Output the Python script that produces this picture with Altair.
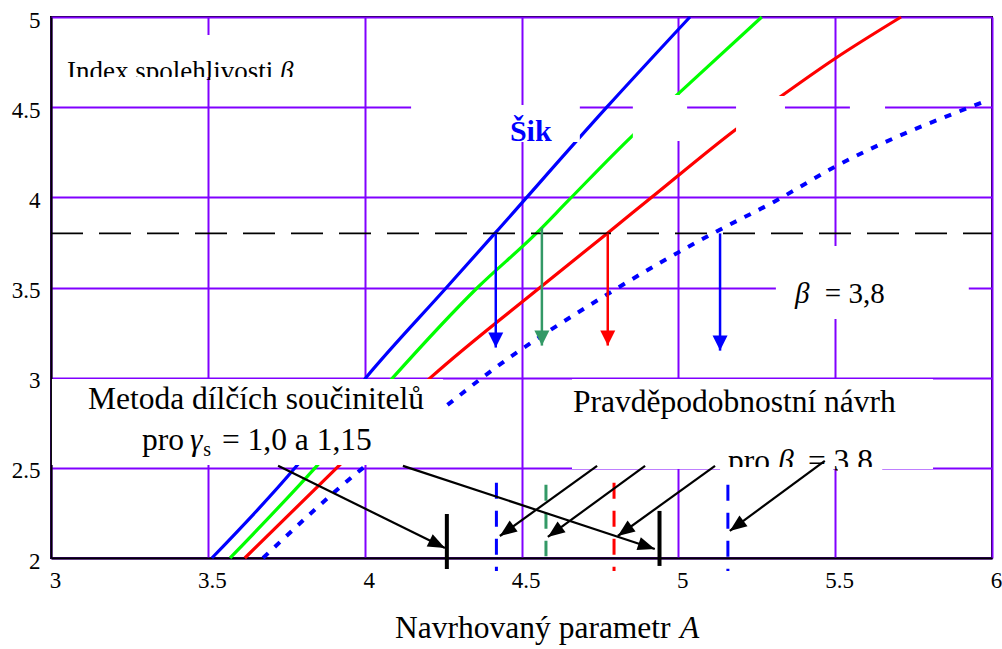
import math
import altair as alt
import pandas as pd

SERIF = "Liberation Serif"
GRID = "#8000ff"
W, H = 941, 541
X_DOMAIN = [3.0, 6.0]
Y_DOMAIN = [2.0, 5.0]
BETA_TARGET = 3.8

# Reliability index beta as a function of the design parameter A
BLUE_X = [3.513, 3.778, 4.004, 4.261, 4.415, 4.772, 5.037]
BLUE_Y = [2.0, 2.5, 3.0, 3.5, 3.8, 4.5, 5.0]
GREEN_X = [3.571, 3.842, 4.09, 4.36, 4.547, 4.648, 4.855, 4.995, 5.266]
GREEN_Y = [2.0, 2.5, 3.0, 3.5, 3.8, 3.98, 4.344, 4.567, 5.0]
RED_X = [3.618, 3.911, 4.21, 4.559, 4.773, 4.915, 5.18, 5.324, 5.5, 5.71]
RED_Y = [2.0, 2.5, 3.0, 3.5, 3.8, 4.0, 4.372, 4.556, 4.77, 5.0]
PROB_X = [3.676, 3.995, 4.25, 4.39, 4.79, 5.11, 5.31, 5.5, 5.99]
PROB_Y = [2.0, 2.5, 2.83, 3.02, 3.48, 3.80, 3.98, 4.17, 4.54]

DROP_X = [4.418, 4.565, 4.775, 5.133]
DROP_TOP = [3.8, 3.833, 3.8, 3.8]
DROP_TIP = [3.167, 3.178, 3.178, 3.150]
DROP_COLOR = ["#0000ff", "#339966", "#ff0000", "#0000ff"]

# The same design values marked next to the A axis
MARK_X = [4.42, 4.578, 4.795, 5.158]
MARK_TOP = [2.417, 2.406, 2.417, 2.406]
MARK_BOTTOM = [1.928, 2.01, 1.928, 1.928]

# Partial factor method results (gamma_s = 1.0 and 1.15)
PF_X = [4.262, 4.940]
PF_TOP = [2.244, 2.261]
PF_BOTTOM = [1.939, 1.956]

# Leader arrows from the labels to the marks
LEAD_X0 = [3.724, 4.122, 4.741, 4.894, 5.117, 5.467]
LEAD_Y0 = [2.511, 2.511, 2.511, 2.511, 2.511, 2.539]
LEAD_X1 = [4.256, 4.925, 4.431, 4.584, 4.807, 5.164]
LEAD_Y1 = [2.056, 2.050, 2.122, 2.117, 2.122, 2.150]

# White label panels
PANEL_X0 = [3.013, 4.148, 4.855, 5.184, 5.547, 5.311, 3.003, 4.661]
PANEL_X1 = [3.858, 4.686, 5.028, 5.340, 5.659, 5.926, 4.250, 5.812]
PANEL_Y0 = [4.667, 4.307, 4.312, 4.312, 4.312, 3.325, 2.516, 2.494]
PANEL_Y1 = [4.900, 4.512, 4.567, 4.562, 4.562, 3.730, 2.993, 2.993]

# Strips trimming the bottom edge of two clipped labels
TRIM_X0 = [3.035, 3.508, 5.133, 5.508]
TRIM_X1 = [3.495, 3.793, 5.493, 5.650]
TRIM_Y0 = [4.606, 4.606, 2.433, 2.433]
TRIM_Y1 = [4.667, 4.667, 2.505, 2.505]

# Text pieces (upright, italic, bold)
UP_TEXT = ["Index spolehlivosti", "= 3,8", "Metoda dílčích součinitelů", "pro",
           "= 1,0 a 1,15", "Pravděpodobnostní návrh", "pro", "= 3.8",
           "Navrhovaný parametr"]
UP_X = [3.051, 5.467, 3.118, 3.290, 3.545, 4.664, 5.158, 5.413, 4.097]
UP_Y = [4.651, 3.414, 2.826, 2.599, 2.599, 2.810, 2.482, 2.482, 1.557]
UP_SIZE = [27, 29, 31.5, 31.5, 31.5, 31.5, 31.5, 31.5, 31.5]
IT_TEXT = ["β", "β", "γ", "β", "A"]
IT_X = [3.730, 5.372, 3.443, 5.318, 5.005]
IT_Y = [4.651, 3.414, 2.599, 2.482, 1.557]
IT_SIZE = [27, 29, 31.5, 31.5, 31.5]
SUB_TEXT = ["s"]
SUB_X = [3.485]
SUB_Y = [2.566]
BOLD_TEXT = ["Šik"]
BOLD_X = [4.463]
BOLD_Y = [4.312]

TICKS_X = [3, 3.5, 4, 4.5, 5, 5.5, 6]
TICKS_Y = [2, 2.5, 3, 3.5, 4, 4.5, 5]

label_style = dict(labelFont=SERIF, labelFontSize=23, labelColor="black",
                   labelFlush=False, labelOverlap=False, ticks=False, title=None,
                   format="~g", grid=True, gridColor=GRID, gridWidth=2, gridOpacity=1,
                   domainColor="black", domainWidth=2)
x_axis = alt.Axis(values=TICKS_X, labelPadding=29, labelBaseline="alphabetic",
                  labelOffset=4, **label_style)
y_axis = alt.Axis(values=TICKS_Y, labelPadding=11, labelOffset=3, **label_style)
xs = alt.Scale(domain=X_DOMAIN, nice=False, zero=False)
ys = alt.Scale(domain=Y_DOMAIN, nice=False, zero=False)
X = alt.X("x:Q", scale=xs, axis=x_axis)
Y = alt.Y("y:Q", scale=ys, axis=y_axis)

px_per_x = W / (X_DOMAIN[1] - X_DOMAIN[0])
px_per_y = H / (Y_DOMAIN[1] - Y_DOMAIN[0])


def heading(x0, y0, x1, y1):
    sx = (x1 - x0) * px_per_x
    sy = -(y1 - y0) * px_per_y
    return math.degrees(math.atan2(sx, -sy)) % 360


# arrowhead with its tip at the anchor point, pointing up before rotation
HEAD = "M0,0L0.5,1L-0.5,1Z"
HEAD_NARROW = "M0,0L0.4,1L-0.4,1Z"


def curve(xs_, ys_, color, dash=None, width=3.2):
    df = pd.DataFrame({"x": xs_, "y": ys_})
    kw = dict(color=color, strokeWidth=width, interpolate="monotone")
    if dash:
        kw["strokeDash"] = dash
    return alt.Chart(df).mark_line(**kw).encode(x=X, y=Y)


layers = [
    curve(BLUE_X, BLUE_Y, "#0000ff"),
    curve(GREEN_X, GREEN_Y, "#00ff00"),
    curve(RED_X, RED_Y, "#ff0000"),
    curve(PROB_X, PROB_Y, "#0000ff", dash=[7, 9], width=4),
]

# target reliability line
target = pd.DataFrame({"x": [X_DOMAIN[0]], "x2": [X_DOMAIN[1]], "y": [BETA_TARGET]})
layers.append(alt.Chart(target).mark_rule(color="black", strokeWidth=1.6, strokeDash=[32, 16])
              .encode(x=X, x2="x2:Q", y=Y))

# vertical drops from the target line
drops = pd.DataFrame({"x": DROP_X, "y": DROP_TOP, "y2": DROP_TIP, "c": DROP_COLOR})
layers.append(alt.Chart(drops).mark_rule(strokeWidth=2.5)
              .encode(x=X, y=Y, y2="y2:Q", color=alt.Color("c:N", scale=None)))
drop_heads = pd.DataFrame({"x": DROP_X, "y": DROP_TIP, "c": DROP_COLOR})
layers.append(alt.Chart(drop_heads).mark_point(shape=HEAD, filled=True, opacity=1, size=900,
                                               angle=180, strokeWidth=0)
              .encode(x=X, y=Y, color=alt.Color("c:N", scale=None)))

# white label panels
panels = pd.DataFrame({"x": PANEL_X0, "x2": PANEL_X1, "y": PANEL_Y0, "y2": PANEL_Y1})
layers.append(alt.Chart(panels).mark_rect(color="white", opacity=1)
              .encode(x=X, x2="x2:Q", y=Y, y2="y2:Q"))

# value marks near the axis
marks = pd.DataFrame({"x": MARK_X, "y": MARK_TOP, "y2": MARK_BOTTOM, "c": DROP_COLOR})
layers.append(alt.Chart(marks).mark_rule(strokeWidth=3, strokeDash=[16, 12])
              .encode(x=X, y=Y, y2="y2:Q", color=alt.Color("c:N", scale=None)))
pf = pd.DataFrame({"x": PF_X, "y": PF_TOP, "y2": PF_BOTTOM})
layers.append(alt.Chart(pf).mark_rule(color="black", strokeWidth=4)
              .encode(x=X, y=Y, y2="y2:Q"))


def texts(tx, x, y, size, **kw):
    df = pd.DataFrame({"x": x, "y": y, "t": tx, "s": size})
    return alt.Chart(df).mark_text(align="left", baseline="alphabetic", font=SERIF, **kw).encode(
        x=X, y=Y, text="t:N", size=alt.Size("s:Q", scale=None))


layers.append(texts(UP_TEXT, UP_X, UP_Y, UP_SIZE, color="black"))
layers.append(texts(IT_TEXT, IT_X, IT_Y, IT_SIZE, color="black", fontStyle="italic"))
layers.append(texts(SUB_TEXT, SUB_X, SUB_Y, [20], color="black"))
layers.append(texts(BOLD_TEXT, BOLD_X, BOLD_Y, [30], color="#0000ff", fontWeight="bold"))

trims = pd.DataFrame({"x": TRIM_X0, "x2": TRIM_X1, "y": TRIM_Y0, "y2": TRIM_Y1})
layers.append(alt.Chart(trims).mark_rect(color="white", opacity=1)
              .encode(x=X, x2="x2:Q", y=Y, y2="y2:Q"))

# leader arrows
leads = pd.DataFrame({"x": LEAD_X0, "y": LEAD_Y0, "x2": LEAD_X1, "y2": LEAD_Y1})
layers.append(alt.Chart(leads).mark_rule(color="black", strokeWidth=2.2)
              .encode(x=X, y=Y, x2="x2:Q", y2="y2:Q"))
lead_heads = pd.DataFrame({
    "x": LEAD_X1, "y": LEAD_Y1,
    "a": [heading(a, b, c, d) for a, b, c, d in zip(LEAD_X0, LEAD_Y0, LEAD_X1, LEAD_Y1)],
})
layers.append(alt.Chart(lead_heads).mark_point(shape=HEAD_NARROW, filled=True, opacity=1,
                                               size=1156, color="black", strokeWidth=0)
              .encode(x=X, y=Y, angle=alt.Angle("a:Q", scale=None)))

chart = alt.layer(*layers).properties(
    width=W, height=H,
    padding={"left": 51, "top": 17, "right": 10, "bottom": 91},
    autosize=alt.AutoSizeParams(type="none"),
).configure_view(stroke="black", strokeWidth=2)

chart.save("out.html", embed_options={"renderer": "svg", "actions": False})
